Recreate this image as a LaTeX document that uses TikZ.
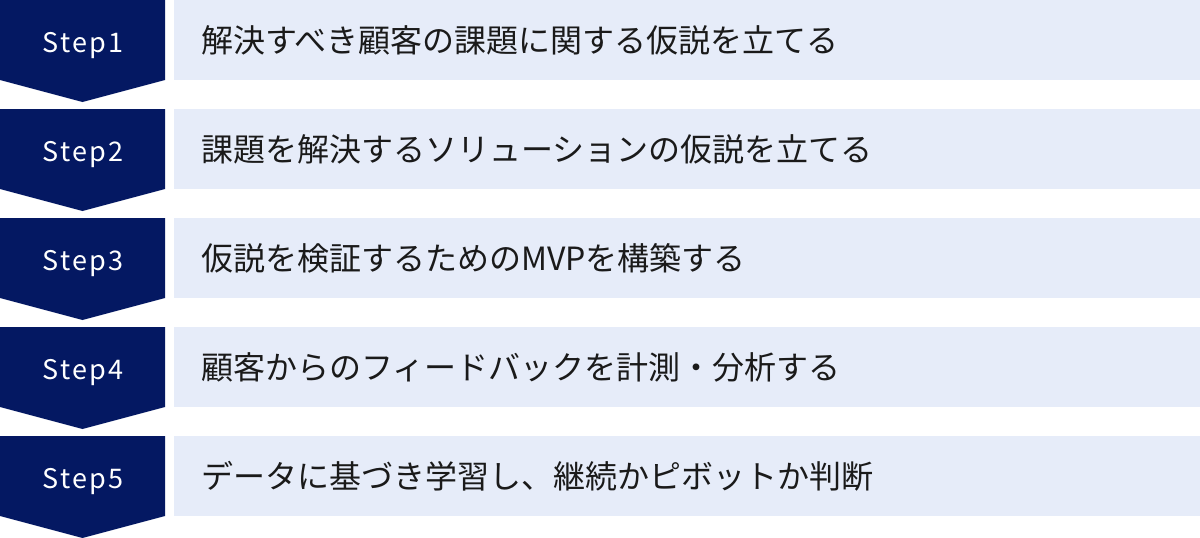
\documentclass[tikz,border=0pt]{standalone}
\usepackage{fontspec}
\setmainfont{Noto Sans CJK JP}
\definecolor{navy}{HTML}{041862}
\definecolor{lightbg}{HTML}{E6ECF9}
\definecolor{txt}{HTML}{1A1A1A}
\tikzset{
  chev/.style={fill=navy, draw=none},
  band/.style={fill=lightbg, draw=none},
  steplabel/.style={text=white, font=\fontsize{27}{30}\selectfont, anchor=base, inner sep=0pt},
  desc/.style={text=txt, font=\fontsize{32}{36}\selectfont, anchor=west, inner sep=0pt},
}
\begin{document}
\begin{tikzpicture}[x=1pt,y=-1pt]
\useasboundingbox (0,0) rectangle (1200,538);
\foreach \i/\t in {1/{解決すべき顧客の課題に関する仮説を立てる},2/{課題を解決するソリューションの仮説を立てる},3/{仮説を検証するためのMVPを構築する},4/{顧客からのフィードバックを計測・分析する},5/{データに基づき学習し、継続かピボットか判断}}{
  \pgfmathsetmacro{\yy}{(\i-1)*109}
  \begin{scope}[yshift={-\yy pt}]
    \fill[chev] (0,0) -- (165,0) -- (165,80) -- (82.5,102) -- (0,80) -- cycle;
    \fill[band] (174,0) rectangle (1200,80);
    \node[steplabel] (s\i) at (83,52) {\addfontfeatures{LetterSpace=8}Step\i};
    \node[desc] (d\i) at (201,40) {\t};
  \end{scope}
}
\end{tikzpicture}
\end{document}
